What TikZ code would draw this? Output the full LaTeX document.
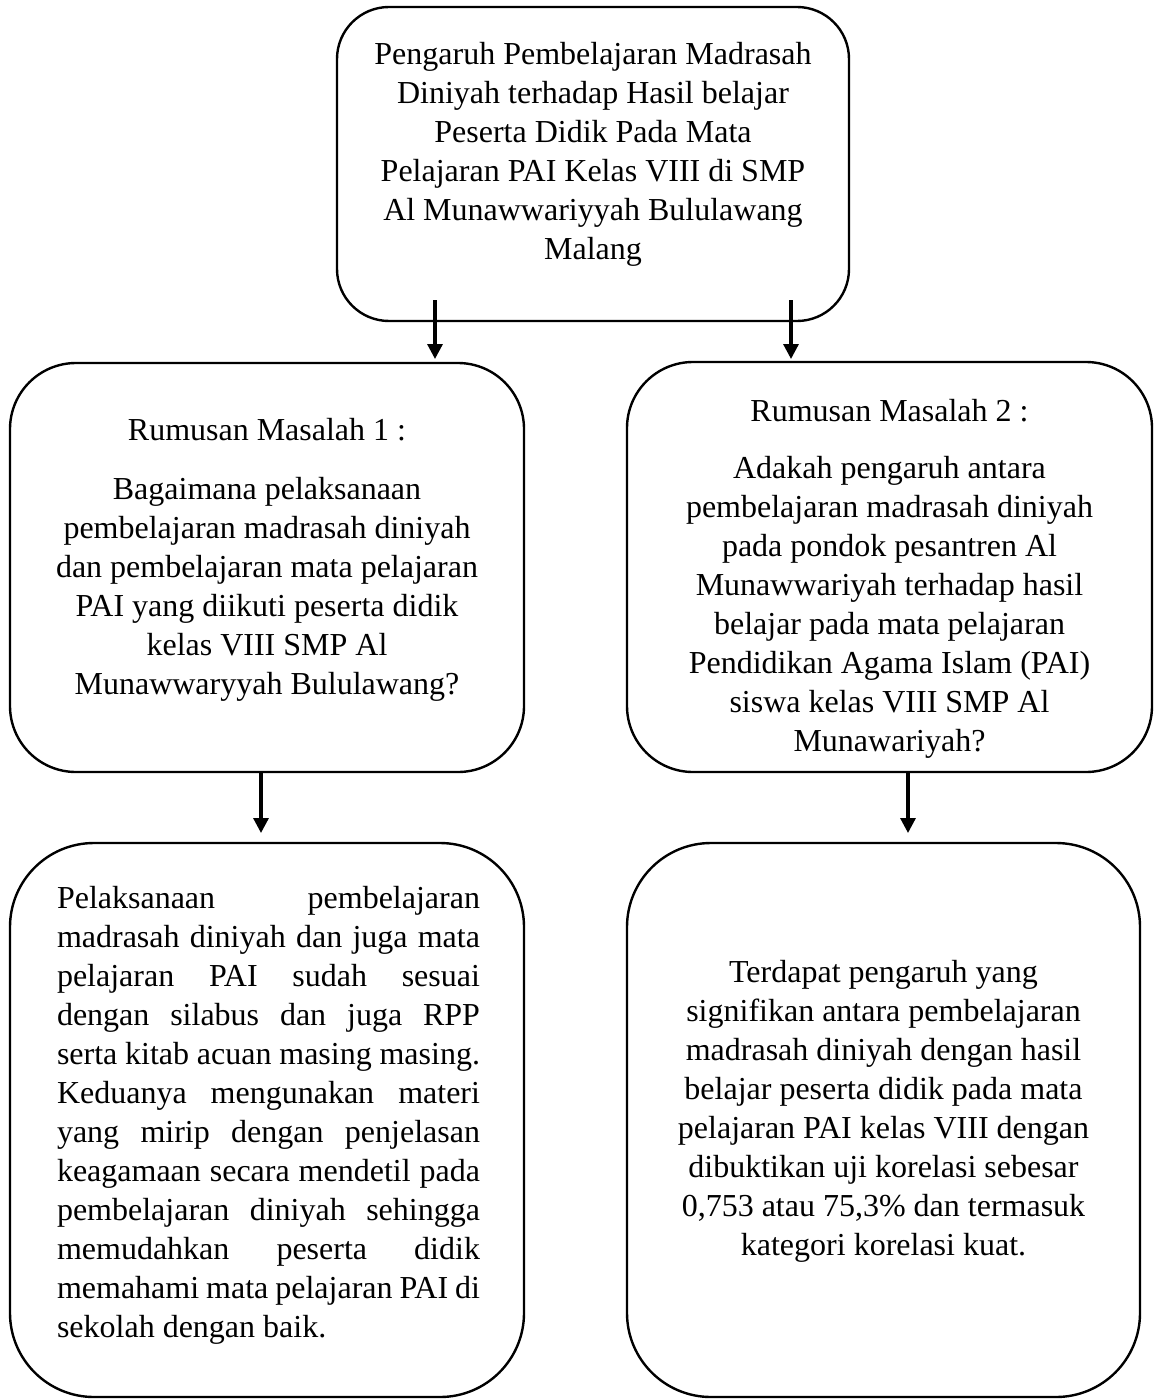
\documentclass[tikz,border=0pt]{standalone}
\usepackage{fontspec}
\setmainfont{Liberation Serif}
\usetikzlibrary{arrows.meta}
\newcommand{\firstline}{\rule{0pt}{24pt}}
\newcommand{\natsp}{\spaceskip=0pt\xspaceskip=0pt\relax}
\begin{document}
\begin{tikzpicture}[x=1pt,y=-1pt,
  box/.style={draw, line width=2.4pt, inner sep=0pt, outer sep=0pt},
  txt/.style={inner sep=0pt, outer sep=0pt, text width=490pt, font=\fontsize{32}{39}\selectfont},
  arr/.style={line width=3.2pt, -{Triangle[length=15pt,width=15pt]}}]
\useasboundingbox (0,0) rectangle (1154,1399);
% boxes
\node[box, minimum width=512pt, minimum height=314pt, rounded corners=52pt] (top) at (593,164) {};
\node[box, minimum width=514pt, minimum height=409pt, rounded corners=66pt] (rm1) at (267,567.5) {};
\node[box, minimum width=525pt, minimum height=410pt, rounded corners=66pt] (rm2) at (889.5,567) {};
\node[box, minimum width=514pt, minimum height=554pt, rounded corners=84pt] (res1) at (267,1120) {};
\node[box, minimum width=513pt, minimum height=554pt, rounded corners=84pt] (res2) at (883.5,1120) {};
% texts
\node[txt, anchor=north] (topT) at (593,41) {\centering\natsp\firstline Pengaruh Pembelajaran Madrasah\\Diniyah terhadap Hasil belajar\\Peserta Didik Pada Mata\\Pelajaran PAI Kelas VIII di SMP\\Al Munawwariyyah Bululawang\\Malang\par};
\node[txt, anchor=north] (rm1T) at (267,416) {\centering\natsp\firstline Rumusan Masalah 1 :\\[20pt]Bagaimana pelaksanaan\\pembelajaran madrasah diniyah\\dan pembelajaran mata pelajaran\\PAI yang diikuti peserta didik\\kelas VIII SMP Al\\Munawwaryyah Bululawang?\par};
\node[txt, anchor=north] (rm2T) at (889.5,397) {\centering\natsp\firstline Rumusan Masalah 2 :\\[18pt]Adakah pengaruh antara\\pembelajaran madrasah diniyah\\pada pondok pesantren Al\\Munawwariyah terhadap hasil\\belajar pada mata pelajaran\\Pendidikan Agama Islam (PAI)\\siswa kelas VIII SMP Al\\Munawariyah?\par};
\node[txt, anchor=north west, text width=423pt] (res1T) at (57,884) {\noindent\natsp\firstline\makebox[423pt][s]{Pelaksanaan pembelajaran}\\
\makebox[423pt][s]{madrasah diniyah dan juga mata}\\
\makebox[423pt][s]{pelajaran PAI sudah sesuai}\\
\makebox[423pt][s]{dengan silabus dan juga RPP}\\
\makebox[423pt][s]{serta kitab acuan masing masing.}\\
\makebox[423pt][s]{Keduanya mengunakan materi}\\
\makebox[423pt][s]{yang mirip dengan penjelasan}\\
\makebox[423pt][s]{keagamaan secara mendetil pada}\\
\makebox[423pt][s]{pembelajaran diniyah sehingga}\\
\makebox[423pt][s]{memudahkan peserta didik}\\
\makebox[423pt][s]{memahami mata pelajaran PAI di}\\
sekolah dengan baik.\par};
\node[txt, anchor=north] (res2T) at (883.5,958) {\centering\natsp\firstline Terdapat pengaruh yang\\signifikan antara pembelajaran\\madrasah diniyah dengan hasil\\belajar peserta didik pada mata\\pelajaran PAI kelas VIII dengan\\dibuktikan uji korelasi sebesar\\0,753 atau 75,3\% dan termasuk\\kategori korelasi kuat.\par};
% connectors
\coordinate (a1) at (435,300);
\coordinate (a2) at (791,300);
\coordinate (b1) at (261,0);
\coordinate (b2) at (908,0);
\draw[arr, shorten >=4pt] (a1) -- (a1 |- rm1.north);
\draw[arr, shorten >=3pt] (a2) -- (a2 |- rm2.north);
\draw[arr, shorten >=10pt] (rm1.south -| b1) -- (res1.north -| b1);
\draw[arr, shorten >=10pt] (rm2.south -| b2) -- (res2.north -| b2);
\end{tikzpicture}
\end{document}
